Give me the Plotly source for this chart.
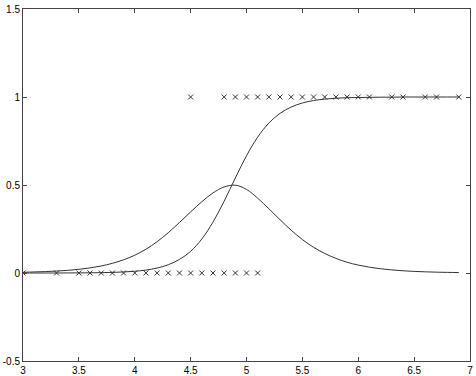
import plotly.graph_objects as go

# observed data points (class 0 and class 1)
x_zero = [3.0, 3.3, 3.5, 3.6, 3.7, 3.8, 3.9, 4.0, 4.1, 4.2, 4.3, 4.4, 4.5, 4.6, 4.7, 4.8, 4.9, 5.0, 5.1]
y_zero = [0] * len(x_zero)
x_one = [4.5, 4.8, 4.9, 5.0, 5.1, 5.2, 5.3, 5.4, 5.5, 5.6, 5.7, 5.8, 5.9, 6.0, 6.1, 6.3, 6.4, 6.6, 6.7, 6.9]
y_one = [1] * len(x_one)

# curves
x_curve = [3.0, 3.1, 3.2, 3.3, 3.4, 3.5, 3.6, 3.7, 3.8, 3.9,
           4.0, 4.1, 4.2, 4.3, 4.4, 4.5, 4.6, 4.7, 4.8, 4.9,
           5.0, 5.1, 5.2, 5.3, 5.4, 5.5, 5.6, 5.7, 5.8, 5.9,
           6.0, 6.1, 6.2, 6.3, 6.4, 6.5, 6.6, 6.7, 6.8, 6.9]
sigmoid = [0.000, 0.000, 0.000, 0.000, 0.0004, 0.0007, 0.0012, 0.002, 0.0034, 0.006,
           0.0098, 0.0166, 0.028, 0.047, 0.077, 0.123, 0.193, 0.289, 0.408, 0.540,
           0.666, 0.772, 0.852, 0.907, 0.943, 0.966, 0.980, 0.988, 0.993, 0.996,
           0.997, 0.998, 0.999, 0.999, 1.0, 1.0, 1.0, 1.0, 1.0, 1.0]
bell = [0.004, 0.006, 0.008, 0.011, 0.015, 0.021, 0.029, 0.040, 0.055, 0.075,
        0.101, 0.135, 0.178, 0.229, 0.287, 0.347, 0.405, 0.455, 0.489, 0.499,
        0.475, 0.425, 0.365, 0.303, 0.243, 0.190, 0.146, 0.111, 0.083, 0.061,
        0.045, 0.033, 0.024, 0.0175, 0.0127, 0.0091, 0.0066, 0.0048, 0.0035, 0.0025]

x_ticks = [3, 3.5, 4, 4.5, 5, 5.5, 6, 6.5, 7]
y_ticks = [-0.5, 0, 0.5, 1, 1.5]

line_col = "#333333"
fig = go.Figure()
fig.add_trace(go.Scatter(x=x_curve, y=sigmoid, mode="lines",
                         line=dict(color=line_col, width=1, shape="spline"), showlegend=False))
fig.add_trace(go.Scatter(x=x_curve, y=bell, mode="lines",
                         line=dict(color=line_col, width=1, shape="spline"), showlegend=False))
for xs, ys in [(x_zero, y_zero), (x_one, y_one)]:
    fig.add_trace(go.Scatter(x=xs, y=ys, mode="markers",
                             marker=dict(symbol="x-thin-open", size=5, color="#333333",
                                         line=dict(color="#333333", width=1)),
                             showlegend=False))

axis_common = dict(showgrid=False, zeroline=False, showline=True, linecolor="#444444",
                   linewidth=1, mirror="allticks", ticks="inside", ticklen=4,
                   tickcolor="#444444", automargin=False,
                   tickfont=dict(family="Liberation Sans, Arial", size=10, color="black"))
fig.update_xaxes(range=[3, 7], tickvals=x_ticks, ticktext=[f"{v:g}" for v in x_ticks], **axis_common)
fig.update_yaxes(range=[-0.5, 1.5], tickvals=y_ticks, ticktext=[f"{v:g}" for v in y_ticks],
                 **axis_common)
fig.update_layout(width=476, height=376, plot_bgcolor="white", paper_bgcolor="white",
                  margin=dict(l=23, r=6, t=9, b=15), hovermode=False)
fig.write_html("out.html", config={"displayModeBar": False, "staticPlot": True},
               post_script="document.body.style.margin='0';document.body.style.overflow='hidden';")
